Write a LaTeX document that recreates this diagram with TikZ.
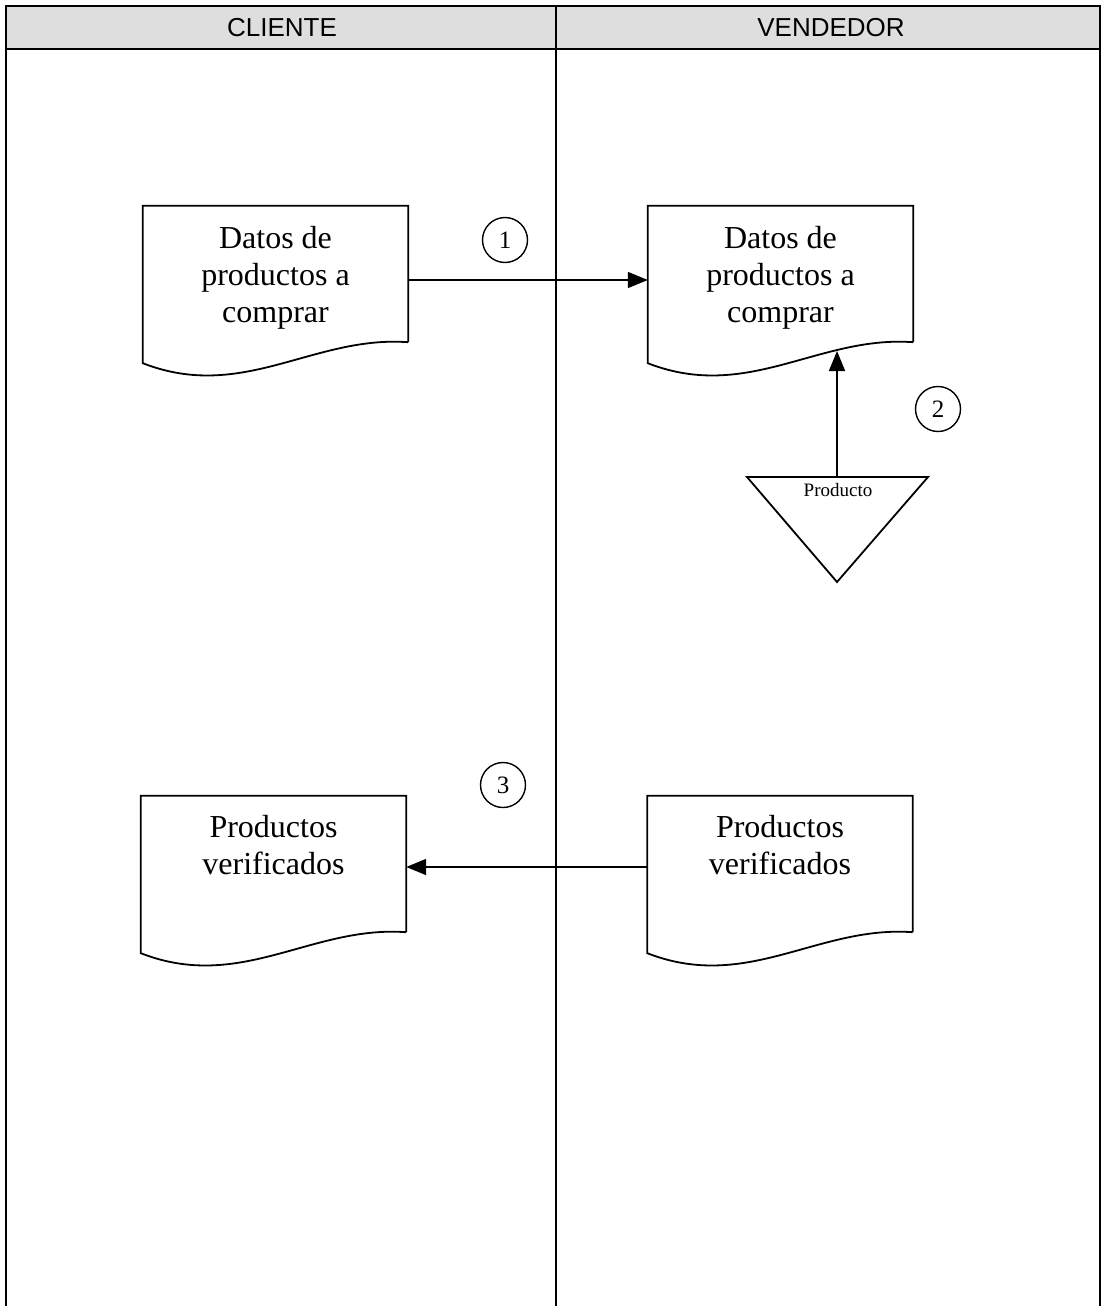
\documentclass[tikz,border=0pt]{standalone}
\usepackage{fontspec}
\setmainfont{Liberation Serif}
\newfontfamily\hdrfont{Liberation Sans}
\usetikzlibrary{arrows.meta,calc}
\newcommand\docoutline[1]{%
  \draw[docline] (#1.south east) -- (#1.north east) -- (#1.north west)
    -- ($(#1.south west)+(0,21)$)
    .. controls ($(#1.south west)+(100,60)$) and ($(#1.south east)+(-95,-7)$) .. (#1.south east);}
\begin{document}
\begin{tikzpicture}[x=1pt,y=-1pt,
  docbox/.style={minimum width=265pt, minimum height=136pt, inner sep=0pt, draw=none},
  docline/.style={line width=1.8pt},
  doctext/.style={anchor=north, inner sep=0pt, align=center, font=\fontsize{32}{37}\selectfont},
  num/.style={circle, draw, line width=1.4pt, minimum size=45pt, inner sep=0pt, font=\fontsize{25}{25}\selectfont},
  flow/.style={line width=1.6pt, -{Triangle[length=20pt,width=16pt]}},
  lane/.style={line width=1.4pt},
  hdr/.style={font=\hdrfont\fontsize{26}{26}\selectfont}
]
\useasboundingbox[fill=white] (0,0) rectangle (1104,1306);
% header
\fill[black!13] (6,6) rectangle (1100,49);
\draw[lane] (6,1306) -- (6,6) -- (1100,6) -- (1100,1306);
\draw[line width=2.6pt] (6,49) -- (1100,49);
\draw[lane] (556,6) -- (556,1306);
\node[hdr] (hc) at (282,28) {CLIENTE};
\node[hdr] (hv) at (831,28) {VENDEDOR};
% documents
\node[docbox] (d1) at (275.5,274) {};
\node[docbox] (d2) at (780.5,274) {};
\node[docbox] (d3) at (273.5,864) {};
\node[docbox] (d4) at (780,864) {};
\docoutline{d1}
\docoutline{d2}
\docoutline{d3}
\docoutline{d4}
\node[doctext] (t1) at ($(d1.north)+(0,20)$) {Datos de\\productos a\\comprar};
\node[doctext] (t2) at ($(d2.north)+(0,20)$) {Datos de\\productos a\\comprar};
\node[doctext] (t3) at ($(d3.north)+(0,19)$) {Productos\\verificados};
\node[doctext] (t4) at ($(d4.north)+(0,19)$) {Productos\\verificados};
% triangle
\coordinate (tl) at (747,477);
\coordinate (tr) at (928,477);
\coordinate (tb) at (837,582);
\coordinate (ttop) at (837,477);
\coordinate (w2) at (837,351);
\draw[docline, line join=miter] (tl) -- (tr) -- (tb) -- cycle;
\node[font=\fontsize{19}{19}\selectfont, inner sep=0pt] (prod) at (838,490) {Producto};
% connectors
\draw[flow] ($(d1.east)+(0,6)$) -- ($(d2.west)+(0,6)$);
\draw[flow] (ttop) -- (w2);
\draw[flow] ($(d4.west)+(0,3)$) -- ($(d3.east)+(0,3)$);
% numbers
\node[num] (n1) at (505,240) {1};
\node[num] (n2) at (938,409) {2};
\node[num] (n3) at (503,785) {3};
\end{tikzpicture}
\end{document}
